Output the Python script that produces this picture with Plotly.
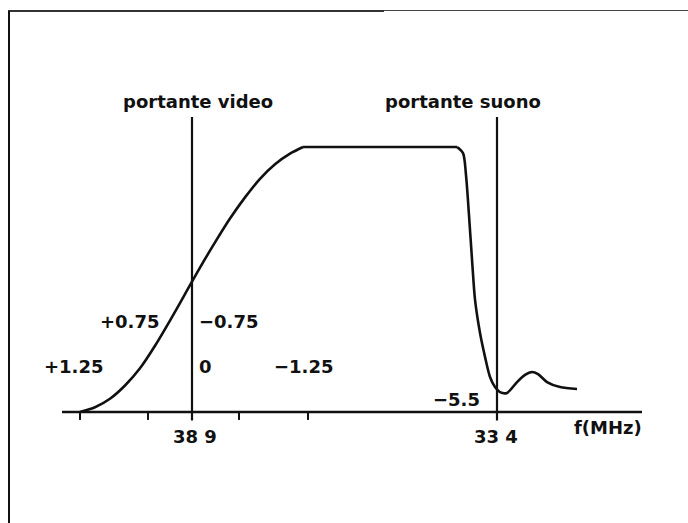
import plotly.graph_objects as go

# IF passband response: frequency (MHz) vs relative amplitude (%)
# lower slope (Nyquist flank around the video carrier)
rise_freq = [40.920, 40.649, 40.379, 40.108, 39.838, 39.567, 39.297, 39.026,
             38.756, 38.485, 38.215, 37.944, 37.674, 37.403, 37.133, 36.898]
rise_ampl = [0.0, 1.8, 5.0, 10.0, 16.5, 25.0, 34.5, 44.5,
             54.5, 64.0, 73.0, 81.0, 88.0, 93.5, 97.5, 100.0]
# flat passband
flat_freq = [36.898, 35.500, 34.121]
flat_ampl = [100.0, 100.0, 100.0]
# upper slope, sound carrier trap and tail
fall_freq = [34.121, 34.013, 33.959, 33.905, 33.850, 33.796, 33.706, 33.616, 33.526,
             33.436, 33.346, 33.219, 33.039, 32.895, 32.768, 32.660, 32.498, 32.263, 31.957]
fall_ampl = [100.0, 97.7, 89.4, 74.3, 57.4, 42.3, 29.8, 20.8, 13.2,
             9.4, 7.5, 7.2, 11.3, 14.0, 15.1, 14.3, 11.3, 9.4, 8.7]

# carriers
video_carrier = 38.9
sound_carrier = 33.4
carrier_names = ["portante video", "portante suono"]
carrier_labels = ["38 9", "33 4"]

# frequency axis extent and unlabelled tick marks
axis_span = [41.244, 30.785]
tick_freqs = [40.92, 39.694, 38.052, 36.808]
axis_title = "f(MHz)"

# offsets from video carrier (MHz)
offset_texts = ["+1.25", "0", "\u22121.25", "+0.75", "\u22120.75", "\u22125.5"]

INK = "#111111"
FONT = dict(family="DejaVu Sans", size=18, color=INK, weight="bold")

fig = go.Figure()

# response curve, drawn as three joined pieces
for fx, fy, shape in ((rise_freq, rise_ampl, "spline"),
                      (flat_freq, flat_ampl, "linear"),
                      (fall_freq, fall_ampl, "spline")):
    fig.add_trace(go.Scatter(x=fx, y=fy, mode="lines",
                             line=dict(color=INK, width=2.6, shape=shape, smoothing=0.8)))

# baseline axis
fig.add_trace(go.Scatter(x=axis_span, y=[0, 0], mode="lines",
                         line=dict(color=INK, width=2.6)))

# tick marks below the axis
tx, ty = [], []
for f in tick_freqs:
    tx += [f, f, None]
    ty += [0, -3.0, None]
fig.add_trace(go.Scatter(x=tx, y=ty, mode="lines", line=dict(color=INK, width=2)))

# carrier lines
for fc in (video_carrier, sound_carrier):
    fig.add_trace(go.Scatter(x=[fc, fc], y=[111.3, -3.2], mode="lines",
                             line=dict(color=INK, width=2.2)))

ann = []
name_x = [video_carrier - 0.1, sound_carrier + 0.61]
label_x = [video_carrier - 0.054, sound_carrier + 0.018]
for nx, lx, name, lab in zip(name_x, label_x, carrier_names, carrier_labels):
    ann.append(dict(x=nx, y=117.0, text=name, showarrow=False,
                    xanchor="center", yanchor="middle", font=FONT))
    ann.append(dict(x=lx, y=-9.1, text=lab, showarrow=False,
                    xanchor="center", yanchor="middle", font=FONT))

ann.append(dict(x=31.398, y=-6.0, text=axis_title, showarrow=False,
                xanchor="center", yanchor="middle", font=FONT))

# offset annotations: (x, y, anchor)
offset_pos = [(41.028, 17.0, "center"), (38.810, 17.0, "left"), (36.889, 17.0, "center"),
              (39.441, 34.0, "right"), (38.810, 34.0, "left"), (33.670, 4.9, "right")]
for t, (x, y, xa) in zip(offset_texts, offset_pos):
    ann.append(dict(x=x, y=y, text=t, showarrow=False, xanchor=xa, yanchor="middle", font=FONT))

# page frame
shapes = [
    dict(type="line", xref="paper", yref="paper", x0=8 / 688, x1=384 / 688,
         y0=1 - 11 / 523, y1=1 - 11 / 523, line=dict(color="#333333", width=2)),
    dict(type="line", xref="paper", yref="paper", x0=384 / 688, x1=1,
         y0=1 - 10.5 / 523, y1=1 - 10.5 / 523, line=dict(color="#444444", width=1)),
    dict(type="line", xref="paper", yref="paper", x0=9 / 688, x1=9 / 688,
         y0=1 - 11 / 523, y1=0, line=dict(color="#111111", width=2)),
]

fig.update_layout(
    width=688, height=523,
    margin=dict(l=0, r=0, t=0, b=0),
    paper_bgcolor="white", plot_bgcolor="white",
    showlegend=False,
    xaxis=dict(range=[42.3623, 29.9557], visible=False, fixedrange=True),
    yaxis=dict(range=[-41.887, 155.47], visible=False, fixedrange=True),
    annotations=ann,
    shapes=shapes,
)

fig.write_html("out.html", config={"displayModeBar": False})
